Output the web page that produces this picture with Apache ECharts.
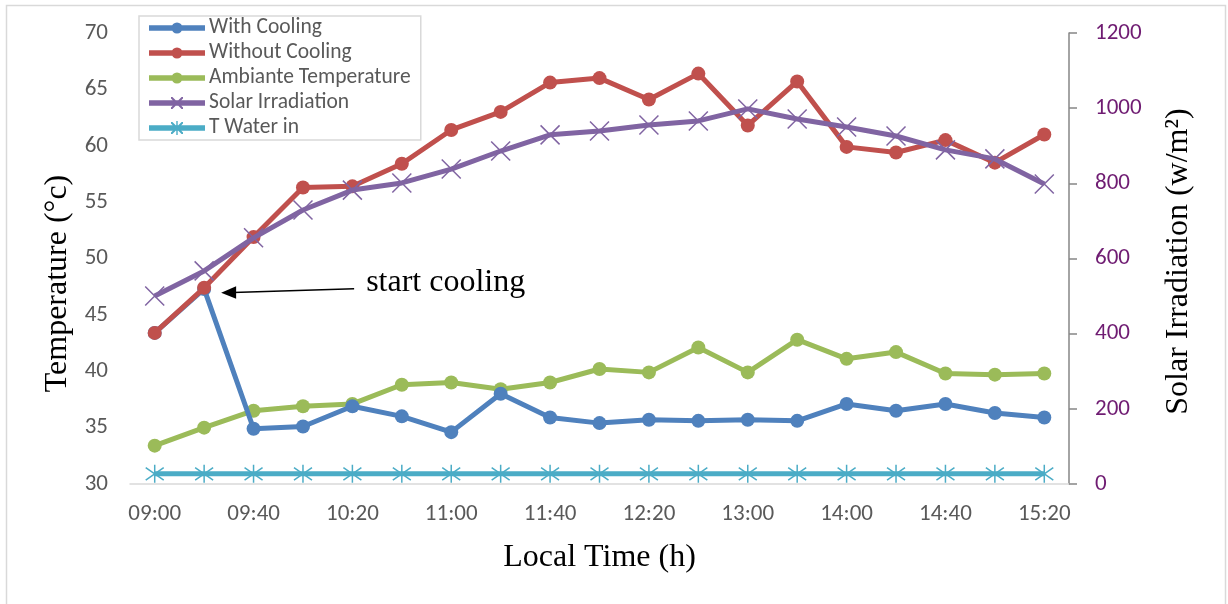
<!DOCTYPE html>
<html>
<head>
<meta charset="utf-8">
<script src="https://cdn.jsdelivr.net/npm/echarts@6/dist/echarts.min.js"></script>
<style>
html,body{margin:0;padding:0;background:#fff;}
#chart{width:1228px;height:604px;}
</style>
</head>
<body>
<div id="chart"></div>
<script>
const categories = ['09:00','09:20','09:40','10:00','10:20','10:40','11:00','11:20','11:40','12:00','12:20','12:40','13:00','13:30','14:00','14:20','14:40','15:00','15:20'];
const withCooling = [43.4,47.3,34.9,35.1,36.9,36.0,34.6,38.0,35.9,35.4,35.7,35.6,35.7,35.6,37.1,36.5,37.1,36.3,35.9];
const withoutCooling = [43.4,47.4,51.9,56.3,56.4,58.4,61.4,63.0,65.6,66.0,64.1,66.4,61.8,65.7,59.9,59.4,60.5,58.5,61.0];
const ambient = [33.4,35.0,36.5,36.9,37.1,38.8,39.0,38.4,39.0,40.2,39.9,42.1,39.9,42.8,41.1,41.7,39.8,39.7,39.8];
const solar = [500,567,655,729,782,801,838,886,929,939,955,966,998,971,950,926,889,865,798];
const waterIn = [30.9,30.9,30.9,30.9,30.9,30.9,30.9,30.9,30.9,30.9,30.9,30.9,30.9,30.9,30.9,30.9,30.9,30.9,30.9];
const seriesNames = ['With Cooling','Without Cooling','Ambiante Temperature','Solar Irradiation','T Water in'];
const colors = ['#4F81BD','#C0504D','#9BBB59','#8064A2','#4BACC6'];

const xSym = 'path://M0,0L10,10M10,0L0,10';
const starSym = 'path://M5,0L5,10M0,1.5L10,8.5M0,8.5L10,1.5';
// legend icons: thick line + marker, drawn as filled shapes in a 56x14 box
const lgBox = 'M0,0L0,0ZM56,14L56,14Z';
const lgLine = lgBox + 'M0,4.3H56V9.7H0Z';
const lgCircle = 'path://' + lgLine + 'M28,1.5A5.5,5.5 0 1,1 28,12.5A5.5,5.5 0 1,1 28,1.5Z';
const lgX = 'M22,1L23.4,1L34,11.6L34,13L32.6,13L22,2.4ZM32.6,1L34,1L34,2.4L23.4,13L22,13L22,11.6Z';
const lgCross = 'path://' + lgLine + lgX;
const lgStar = 'path://' + lgLine + lgX + 'M27.3,0L28.7,0L28.7,14L27.3,14Z';
const legendIcons = [lgCircle, lgCircle, lgCircle, lgCross, lgStar];

const tickFont = 'Carlito, Lato, "Open Sans", sans-serif';
const serif = '"Liberation Serif", "DejaVu Serif", serif';

function lineSeries(i, data, opts) {
  return Object.assign({
    name: seriesNames[i], type: 'line', data: data,
    symbol: 'circle', symbolSize: 14,
    lineStyle: {color: colors[i], width: 5},
    itemStyle: {color: colors[i]},
    animation: false, z: 2 + i
  }, opts || {});
}

const chart = echarts.init(document.getElementById('chart'), null, {renderer: 'canvas'});
const borderRect = {type: 'rect', shape: {x: 6.5, y: 5.5, width: 1219, height: 610}, style: {fill: 'none', stroke: '#D9D9D9', lineWidth: 1.5}, silent: true, z: -10};
const option = {
  backgroundColor: '#ffffff',
  animation: false,
  grid: {left: 130, right: 159, top: 33, bottom: 120},
  legend: {
    left: 139, top: 16, orient: 'vertical',
    itemWidth: 56, itemHeight: 14, itemGap: 3,
    backgroundColor: '#fff', borderColor: '#D9D9D9', borderWidth: 1.5,
    padding: [1, 10, 1, 10],
    itemStyle: {borderWidth: 0},
    textStyle: {fontFamily: tickFont, fontSize: 21.5, lineHeight: 22, color: '#595959', padding: [0,0,0,-1]},
    data: seriesNames.map(function (n, i) { return {name: n, icon: legendIcons[i]}; })
  },
  xAxis: {
    type: 'category', data: categories, boundaryGap: true,
    axisLine: {lineStyle: {color: '#D9D9D9', width: 1.5}},
    axisTick: {show: false},
    axisLabel: {interval: 1, fontFamily: tickFont, fontSize: 23, color: '#595959', margin: 19},
    name: 'Local Time (h)', nameLocation: 'middle', nameGap: 58,
    nameTextStyle: {fontFamily: serif, fontSize: 32, color: '#000'}
  },
  yAxis: [
    {
      type: 'value', min: 30, max: 70, interval: 5,
      axisLine: {show: false}, axisTick: {show: false}, splitLine: {show: false},
      axisLabel: {fontFamily: tickFont, fontSize: 23, color: '#595959', margin: 22},
      name: 'Temperature (°c)', nameLocation: 'middle', nameGap: 54, nameRotate: 90,
      nameTextStyle: {fontFamily: serif, fontSize: 32, color: '#000', padding: [0,0,0,-50]}
    },
    {
      type: 'value', min: 0, max: 1200, interval: 200, position: 'right',
      axisLine: {show: true, lineStyle: {color: '#868686', width: 1.5}},
      axisTick: {show: true, inside: false, length: 8, lineStyle: {color: '#868686', width: 1.5}},
      splitLine: {show: false},
      axisLabel: {fontFamily: tickFont, fontSize: 23, color: '#6F1C72', margin: 26, formatter: function (v) { return String(v); }},
      name: 'Solar Irradiation (w/m²)', nameLocation: 'middle', nameGap: 94, nameRotate: 90,
      nameTextStyle: {fontFamily: serif, fontSize: 32, color: '#000', padding: [0,0,0,-6]}
    }
  ],
  series: [
    lineSeries(4, waterIn, {symbol: starSym, symbolSize: 18, itemStyle: {color: colors[4], borderColor: colors[4], borderWidth: 1.5}, z: 1}),
    lineSeries(2, ambient, {z: 2}),
    lineSeries(0, withCooling, {z: 3}),
    lineSeries(1, withoutCooling, {z: 4}),
    lineSeries(3, solar, {yAxisIndex: 1, symbol: xSym, symbolSize: 19, itemStyle: {color: colors[3], borderColor: colors[3], borderWidth: 1.5}, z: 5})
  ],
  graphic: [borderRect]
};
chart.setOption(option);

// annotation arrow anchored to the 09:20 point of "Without Cooling"
const p = chart.convertToPixel({xAxisIndex: 0, yAxisIndex: 0}, [categories[1], withoutCooling[1]]);
const tipX = p[0] + 17, tipY = p[1] + 5;
const tailX = tipX + 133, tailY = tipY - 4;
chart.setOption({
  graphic: [
    borderRect,
    {type: 'line', shape: {x1: tailX, y1: tailY, x2: tipX + 12, y2: tipY - 0.4}, style: {stroke: '#000', lineWidth: 1.5}, z: 100},
    {type: 'polygon', shape: {points: [[tipX, tipY], [tipX + 15, tipY - 6.5], [tipX + 15, tipY + 6]]}, style: {fill: '#000'}, z: 100},
    {type: 'text', x: tailX + 12, y: tailY - 6, style: {text: 'start cooling', font: '32px "Liberation Serif", serif', fill: '#000', verticalAlign: 'middle'}, z: 100}
  ]
});
</script>
</body>
</html>
